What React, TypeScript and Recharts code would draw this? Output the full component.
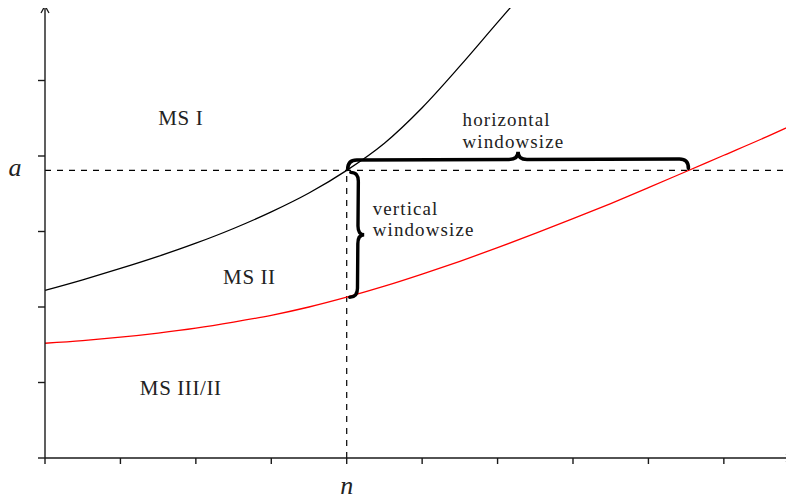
import { LineChart, Line, XAxis, YAxis, ReferenceLine, ReferenceDot } from 'recharts'

// curve samples
const blackX = [0, 0.5, 1, 1.5, 2, 2.5, 3, 3.5, 4, 4.5, 5, 5.5, 6, 6.2]
const blackY = [2.22, 2.36, 2.51, 2.67, 2.845, 3.04, 3.26, 3.51, 3.81, 4.17, 4.64, 5.19, 5.77, 6.0]
const redX = [0, 0.5, 1, 1.5, 2, 2.5, 3, 3.5, 4, 4.5, 5, 5.5, 6, 6.5, 7, 7.5, 8, 8.5, 9, 9.5, 9.93]
const redY = [1.52, 1.555, 1.6, 1.655, 1.72, 1.8, 1.89, 2.0, 2.13, 2.275, 2.435, 2.605, 2.785, 2.975, 3.17, 3.37, 3.58, 3.795, 4.01, 4.225, 4.42]

const xTicks = [0, 1, 2, 3, 4, 5, 6, 7, 8, 9]
const yTicks = [0, 1, 2, 3, 4, 5]
const X_MAX = 9.93
const Y_MAX = 6

const aValue = 3.81 // level "a"
const nValue = 4 // position "n"
const redAtN = 2.13 // red curve at n
const redAtA = 8.53 // where red curve reaches a

const regionLabels = [
  { text: 'MS I', x: 1.8, y: 4.41 },
  { text: 'MS II', x: 2.71, y: 2.31 },
  { text: 'MS III/II', x: 1.8, y: 0.83 },
]

const blackData = blackX.map((x, i) => ({ x, y: blackY[i] }))
const redData = redX.map((x, i) => ({ x, y: redY[i] }))

const FONT = "'Liberation Serif', serif"
const AXIS = '#1a1a1a'

function bracePath(x1: number, y1: number, x2: number, y2: number, w: number, nx: number, ny: number) {
  const L = Math.hypot(x2 - x1, y2 - y1)
  const dx = (x2 - x1) / L
  const dy = (y2 - y1) / L
  const P = (u: number, v: number) => `${x1 + u * dx + v * nx},${y1 + u * dy + v * ny}`
  const b = w * 0.55
  const r = Math.min(9, L / 6)
  return `M${P(0, 0)} Q${P(0, b)} ${P(r, b)} L${P(L / 2 - r, b)} Q${P(L / 2, b)} ${P(L / 2, w)} ` +
    `Q${P(L / 2, b)} ${P(L / 2 + r, b)} L${P(L - r, b)} Q${P(L, b)} ${P(L, 0)}`
}

const textStyle = { fontFamily: FONT, fontSize: 21, letterSpacing: 0.6, fill: '#222' }
const braceTextStyle = { fontFamily: FONT, fontSize: 19, letterSpacing: 1.1, fill: '#222' }
const mathStyle = { fontFamily: FONT, fontSize: 26, fontStyle: 'italic', fill: '#222' }

export default function App() {
  return (
    <div style={{ margin: '-8px 0 0 -8px', width: 794, height: 500, background: '#fff' }}>
      <LineChart width={794} height={500} margin={{ top: 5, right: 0, bottom: 41, left: 44 }}>
        <XAxis
          type="number"
          dataKey="x"
          domain={[0, X_MAX]}
          ticks={xTicks}
          interval={0}
          height={1}
          tickSize={6}
          tickFormatter={() => ''}
          axisLine={{ stroke: AXIS, strokeWidth: 1.4 }}
          tickLine={{ stroke: AXIS, strokeWidth: 1.4 }}
        />
        <YAxis
          type="number"
          dataKey="y"
          domain={[0, Y_MAX]}
          allowDataOverflow
          ticks={yTicks}
          interval={0}
          width={1}
          tickSize={7}
          tickFormatter={() => ''}
          axisLine={{ stroke: AXIS, strokeWidth: 1.4 }}
          tickLine={{ stroke: AXIS, strokeWidth: 1.4 }}
        />
        <ReferenceLine y={aValue} stroke="#000" strokeWidth={1.2} strokeDasharray="6 6" ifOverflow="visible" />
        <ReferenceLine
          segment={[{ x: nValue, y: 0 }, { x: nValue, y: aValue }]}
          stroke="#000"
          strokeWidth={1.2}
          strokeDasharray="6 6"
        />
        <Line data={blackData} dataKey="y" type="monotone" stroke="#000" strokeWidth={1.3} dot={false} activeDot={false} isAnimationActive={false} />
        <Line data={redData} dataKey="y" type="monotone" stroke="#ff0000" strokeWidth={1.3} dot={false} activeDot={false} isAnimationActive={false} />
        <ReferenceLine
          segment={[{ x: nValue, y: aValue }, { x: nValue, y: redAtN }]}
          ifOverflow="visible"
          shape={(p: any) => {
            const mid = (p.y1 + p.y2) / 2
            return (
              <g>
                <path d={bracePath(p.x1 + 4, p.y1 + 2, p.x2 + 3, p.y2, 14, 1, 0)} fill="none" stroke="#000" strokeWidth={3.4} strokeLinecap="round" />
                <text x={p.x1 + 26} y={mid - 19} style={braceTextStyle}>vertical</text>
                <text x={p.x1 + 26} y={mid + 2.5} style={braceTextStyle}>windowsize</text>
              </g>
            )
          }}
        />
        <ReferenceLine
          segment={[{ x: nValue, y: aValue }, { x: redAtA, y: aValue }]}
          ifOverflow="visible"
          shape={(p: any) => {
            const mid = (p.x1 + p.x2) / 2
            return (
              <g>
                <path d={bracePath(p.x1 + 1, p.y1 - 1, p.x2, p.y2 - 2, 17, 0, -1)} fill="none" stroke="#000" strokeWidth={3.6} strokeLinecap="round" />
                <text x={mid - 55} y={p.y1 - 44} style={braceTextStyle}>horizontal</text>
                <text x={mid - 55} y={p.y1 - 22.5} style={braceTextStyle}>windowsize</text>
              </g>
            )
          }}
        />
        {regionLabels.map(l => (
          <ReferenceDot
            key={l.text}
            x={l.x}
            y={l.y}
            ifOverflow="visible"
            shape={(p: any) => (
              <text x={p.cx} y={p.cy} textAnchor="middle" style={textStyle}>{l.text}</text>
            )}
          />
        ))}
        <ReferenceDot
          x={0}
          y={aValue}
          ifOverflow="visible"
          shape={(p: any) => (
            <text x={p.cx - 30} y={p.cy + 6} textAnchor="middle" style={mathStyle}>a</text>
          )}
        />
        <ReferenceDot
          x={nValue}
          y={0}
          ifOverflow="visible"
          shape={(p: any) => (
            <text x={p.cx} y={p.cy + 36} textAnchor="middle" style={mathStyle}>n</text>
          )}
        />
        <ReferenceDot
          x={0}
          y={Y_MAX}
          ifOverflow="visible"
          shape={(p: any) => (
            <path d={`M${p.cx - 4},${p.cy + 8} Q${p.cx - 1},${p.cy + 3} ${p.cx},${p.cy} Q${p.cx + 1},${p.cy + 3} ${p.cx + 4},${p.cy + 8}`} fill="none" stroke={AXIS} strokeWidth={1.3} />
          )}
        />
        <ReferenceDot
          x={X_MAX}
          y={0}
          ifOverflow="visible"
          shape={(p: any) => (
            <path d={`M${p.cx - 8},${p.cy - 4} Q${p.cx - 3},${p.cy - 1} ${p.cx},${p.cy} Q${p.cx - 3},${p.cy + 1} ${p.cx - 8},${p.cy + 4}`} fill="none" stroke={AXIS} strokeWidth={1.3} />
          )}
        />
      </LineChart>
    </div>
  )
}
